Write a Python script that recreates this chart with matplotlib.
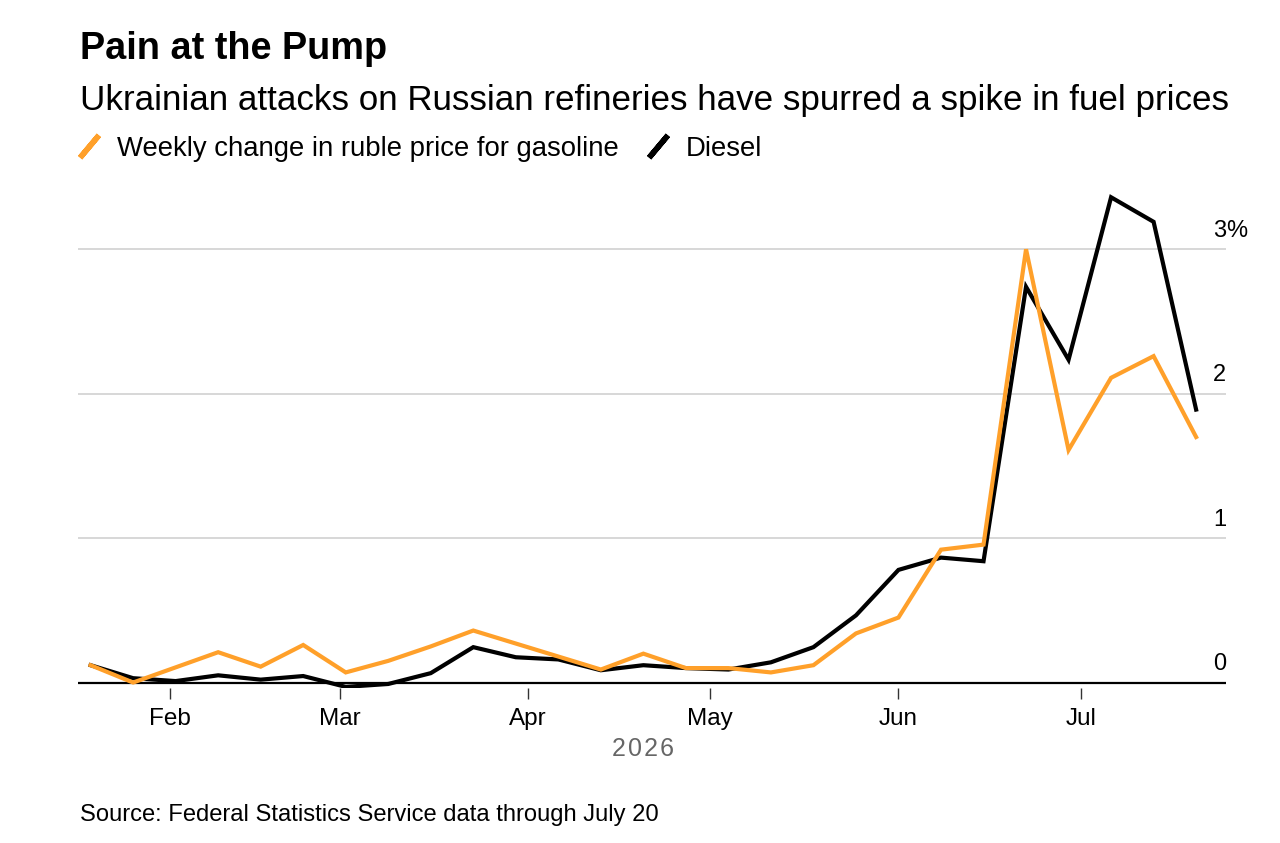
import pandas as pd
import matplotlib
matplotlib.use('Agg')
import matplotlib.pyplot as plt
import matplotlib.dates as mdates
from matplotlib.lines import Line2D

plt.rcParams['font.family'] = ['Liberation Sans', 'DejaVu Sans']

# weekly readings, % change in ruble price
dates = ["2026-01-19", "2026-01-26", "2026-02-02", "2026-02-09", "2026-02-16", "2026-02-23",
         "2026-03-02", "2026-03-09", "2026-03-16", "2026-03-23", "2026-03-30", "2026-04-06",
         "2026-04-13", "2026-04-20", "2026-04-27", "2026-05-04", "2026-05-11", "2026-05-18",
         "2026-05-25", "2026-06-01", "2026-06-08", "2026-06-15", "2026-06-22", "2026-06-29",
         "2026-07-06", "2026-07-13", "2026-07-20"]
gasoline = [0.12, 0.00, 0.105, 0.21, 0.11, 0.26, 0.07, 0.15, 0.25, 0.36, 0.27, 0.18,
            0.09, 0.20, 0.10, 0.10, 0.07, 0.12, 0.34, 0.45, 0.92, 0.955, 3.00, 1.61,
            2.11, 2.26, 1.70]
diesel = [0.12, 0.03, 0.01, 0.05, 0.02, 0.045, -0.03, -0.01, 0.065, 0.245, 0.175, 0.16,
          0.085, 0.12, 0.10, 0.09, 0.14, 0.245, 0.465, 0.78, 0.865, 0.84, 2.74, 2.235,
          3.36, 3.19, 1.89]
y_ticks = [0, 1, 2, 3]

orange = "#FFA02A"
dates = pd.to_datetime(dates)

fig = plt.figure(figsize=(12.8, 8.43), dpi=100)
ax = fig.add_axes([0.0609, 0.1835, 0.8969, 0.5979])

ax.plot(dates, diesel, color="black", lw=3, solid_joinstyle="miter", zorder=3)
ax.plot(dates, gasoline, color=orange, lw=3, solid_joinstyle="miter", zorder=4)

ax.set_ylim(-0.04, 3.45)
ax.set_xlim(pd.Timestamp("2026-01-16 22:00"), pd.Timestamp("2026-07-24 22:00"))

# gridlines + baseline
ax.set_yticks(y_ticks[1:])
ax.yaxis.grid(True, color="#d4d4d4", lw=1.3)
ax.tick_params(axis="y", left=False, labelleft=False)
ax.axhline(0, color="black", lw=1.6, zorder=2)
for s in ax.spines.values():
    s.set_visible(False)

for v in y_ticks:
    ax.annotate(str(v), xy=(1.0, v), xycoords=ax.get_yaxis_transform(),
                xytext=(0, 9), textcoords="offset points",
                ha="right", va="baseline", fontsize=17, color="black")
    if v == 3:
        ax.annotate("%", xy=(1.0, v), xycoords=ax.get_yaxis_transform(),
                    xytext=(0, 9), textcoords="offset points",
                    ha="left", va="baseline", fontsize=17, color="black")

ax.xaxis.set_major_locator(mdates.MonthLocator(bymonth=range(2, 8)))
ax.xaxis.set_major_formatter(mdates.DateFormatter("%b"))
ax.tick_params(axis="x", length=8, width=1, color="#333333", pad=6, labelsize=17.5)

fig.text(643 / 1280, 1 - 756 / 843, "2\u200a0\u200a2\u200a6", color="#666666",
         fontsize=18, ha="center", va="baseline")

fig.text(80 / 1280, 1 - 59 / 843, "Pain at the Pump", fontsize=27.3, weight="bold",
         va="baseline")
fig.text(80 / 1280, 1 - 110 / 843,
         "Ukrainian attacks on Russian refineries have spurred a spike in fuel prices",
         fontsize=25.2, va="baseline")
fig.text(80 / 1280, 1 - 821.5 / 843,
         "Source: Federal Statistics Service data through July 20",
         fontsize=17.1, va="baseline")

handles = [Line2D([], [], color=orange, marker=(2, 2, -40), markersize=21,
                  markeredgewidth=4, linestyle="none"),
           Line2D([], [], color="black", marker=(2, 2, -40), markersize=21,
                  markeredgewidth=4, linestyle="none")]
fig.legend(handles, ["Weekly change in ruble price for gasoline", "Diesel"],
           loc="upper left", bbox_to_anchor=(74 / 1280, 1 - 136 / 843),
           ncol=2, frameon=False, fontsize=19.8, handlelength=1.1,
           handletextpad=0.45, columnspacing=0.9, borderpad=0, borderaxespad=0)

plt.savefig("out.png", dpi=100)
